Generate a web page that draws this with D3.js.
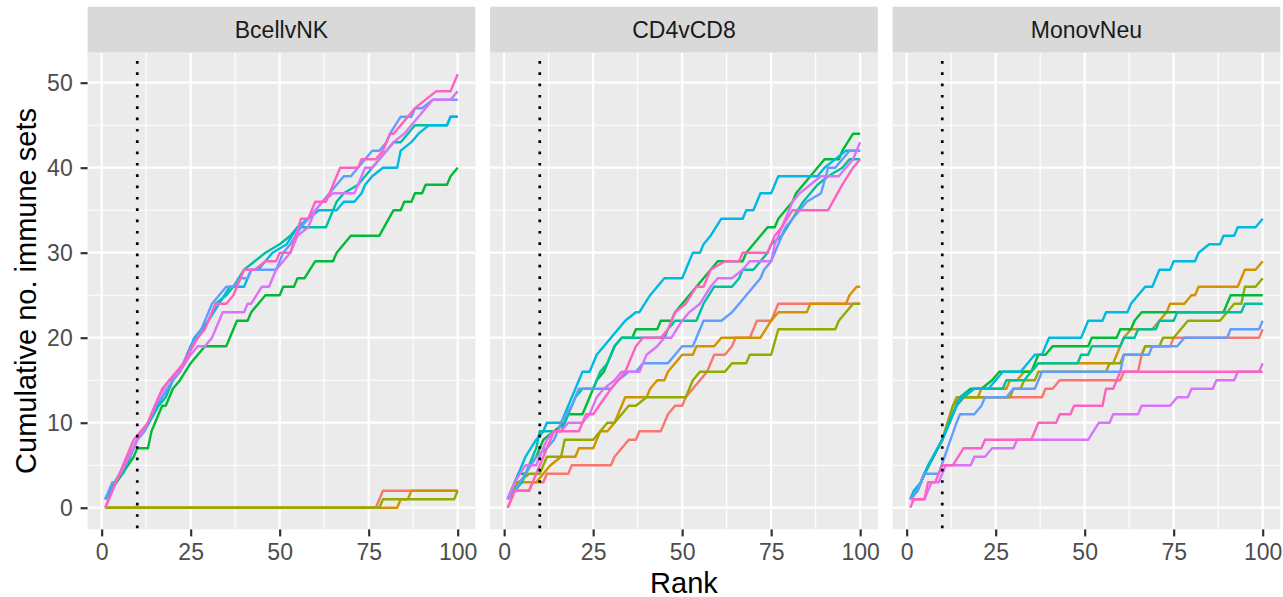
<!DOCTYPE html>
<html>
<head>
<meta charset="utf-8">
<script src="https://cdn.jsdelivr.net/npm/d3@7"></script>
<style>
  html, body { margin: 0; padding: 0; background: #ffffff; }
  svg { display: block; font-family: "Liberation Sans", Arial, Helvetica, sans-serif; }
</style>
</head>
<body>
<script>
// Facets, series colours and axis ticks
const facets = ["BcellvNK", "CD4vCD8", "MonovNeu"];
const seriesColors = ["#F8766D", "#D39200", "#93AA00", "#00BA38", "#00C19F",
                      "#00B9E3", "#619CFF", "#DB72FB", "#FF61C3"];
const xTicks = [0, 25, 50, 75, 100];
const yTicks = [0, 10, 20, 30, 40, 50];
const xMinor = [12.5, 37.5, 62.5, 87.5];
const yMinor = [5, 15, 25, 35, 45];
const cutoffRank = 10;

// Cumulative counts as [rank, cumulative no. of immune sets] vertices,
// one list per series in colour order (red, orange, olive, green, teal, cyan, blue, violet, pink)
const bcellvNK = [
  [[1,0],[77,0],[79,2],[100,2]],
  [[1,0],[83,0],[84,1],[86,1],[87,2],[100,2]],
  [[1,0],[78,0],[79,1],[99,1],[100,2]],
  [[1,1],[9,6],[10,7],[13,7],[14,9],[17,12],[18,12],[20,14],[22,15],[25,17],[27,18],[29,19],[35,19],[38,22],[41,22],[42,23],[44,24],[46,25],[50,25],[51,26],[54,26],[55,27],[57,27],[60,29],[65,29],[66,30],[68,31],[70,32],[78,32],[82,35],[84,35],[85,36],[87,36],[88,37],[90,37],[91,38],[97,38],[98,39],[100,40]],
  [[1,1],[5,4],[6,4],[9,7],[10,8],[12,9],[16,12],[18,13],[20,15],[22,16],[25,19],[27,20],[30,22],[32,24],[35,25],[37,26],[40,28],[43,29],[46,30],[50,31],[53,32],[55,33],[63,33],[66,36],[68,37],[72,38],[74,39],[76,40],[80,42],[82,43],[84,43],[86,44],[88,45],[97,45],[98,46],[100,46]],
  [[1,1],[4,3],[9,7],[10,8],[13,10],[17,13],[20,15],[23,17],[26,20],[30,22],[33,24],[36,26],[40,26],[42,28],[44,28],[46,29],[48,30],[52,31],[55,33],[58,34],[61,35],[66,35],[68,36],[71,36],[73,37],[74,38],[76,39],[79,40],[83,40],[84,42],[87,43],[89,44],[92,45],[97,45],[98,46],[100,46]],
  [[1,1],[3,3],[4,3],[10,8],[12,9],[15,12],[17,13],[20,15],[23,17],[25,19],[28,21],[31,24],[33,25],[35,26],[37,26],[39,27],[41,27],[42,28],[49,28],[51,30],[53,31],[56,33],[60,35],[62,36],[64,37],[66,38],[68,39],[70,39],[72,40],[76,42],[78,42],[80,43],[81,44],[84,46],[87,46],[88,47],[90,47],[93,48],[100,48]],
  [[1,0],[4,3],[9,7],[10,8],[13,10],[16,13],[19,15],[22,16],[25,18],[27,19],[29,19],[31,20],[34,23],[40,23],[41,24],[42,24],[45,26],[47,26],[49,28],[51,29],[53,30],[55,32],[58,33],[60,35],[62,36],[65,37],[71,37],[73,39],[74,40],[76,40],[78,41],[80,42],[82,43],[85,44],[87,45],[89,46],[91,47],[93,48],[98,48],[100,49]],
  [[1,0],[9,8],[13,10],[17,14],[19,15],[21,16],[23,17],[27,20],[29,21],[32,24],[35,24],[37,25],[38,26],[40,28],[43,28],[46,29],[49,29],[50,30],[53,30],[56,34],[58,34],[60,36],[63,36],[67,40],[72,40],[73,41],[77,41],[79,42],[81,44],[82,44],[86,46],[88,47],[91,48],[94,49],[98,49],[100,51]]
];

const cd4vCD8 = [
  [[1,0],[3,2],[7,2],[8,3],[11,3],[12,4],[18,4],[19,5],[30,5],[31,6],[33,7],[35,8],[37,8],[38,9],[44,9],[45,10],[46,11],[48,12],[50,12],[51,13],[53,14],[55,15],[57,16],[59,18],[62,18],[64,19],[65,20],[69,20],[70,21],[71,22],[75,22],[77,24],[100,24]],
  [[1,1],[3,3],[9,3],[11,4],[13,5],[16,6],[20,6],[21,7],[25,7],[26,8],[27,9],[29,9],[31,10],[34,13],[40,13],[41,14],[43,15],[45,15],[46,16],[48,17],[50,18],[53,18],[54,19],[59,19],[61,20],[72,20],[75,22],[77,23],[85,23],[86,24],[96,24],[97,25],[99,26],[100,26]],
  [[1,1],[4,3],[7,4],[10,4],[11,5],[12,6],[16,6],[17,8],[25,8],[27,9],[29,10],[31,10],[33,11],[35,12],[37,12],[40,13],[51,13],[53,15],[55,16],[62,16],[64,17],[68,17],[69,18],[75,18],[77,21],[93,21],[94,22],[96,23],[98,24],[100,24]],
  [[1,1],[3,3],[4,4],[6,4],[9,6],[11,8],[14,9],[17,10],[18,11],[22,11],[24,13],[26,15],[28,16],[31,19],[33,20],[36,20],[37,21],[43,21],[44,22],[47,22],[48,23],[50,24],[52,25],[54,26],[56,27],[58,28],[60,29],[67,29],[68,30],[70,31],[72,32],[74,33],[76,33],[77,34],[79,35],[81,36],[82,37],[84,38],[86,39],[88,40],[90,41],[94,41],[95,42],[98,44],[100,44]],
  [[1,1],[3,2],[5,3],[7,5],[9,7],[10,9],[16,9],[18,11],[20,13],[22,14],[25,14],[27,16],[29,17],[31,19],[33,20],[45,20],[46,21],[48,22],[54,22],[56,24],[59,26],[64,26],[66,27],[67,28],[70,28],[72,29],[74,30],[75,31],[78,32],[81,34],[84,36],[88,38],[91,39],[95,40],[97,41],[100,41]],
  [[1,1],[3,3],[6,6],[9,8],[11,9],[12,10],[16,10],[18,12],[20,14],[22,16],[24,16],[26,18],[28,19],[30,20],[32,21],[34,22],[37,23],[38,23],[41,25],[43,26],[45,27],[50,27],[53,30],[55,30],[56,31],[58,32],[61,34],[67,34],[68,35],[70,35],[72,37],[75,37],[77,39],[88,39],[90,40],[93,41],[96,42],[100,42]],
  [[1,1],[3,2],[6,4],[9,6],[12,7],[14,8],[16,10],[19,12],[21,14],[30,14],[32,15],[35,16],[37,16],[39,17],[46,17],[48,18],[50,19],[53,19],[55,21],[56,22],[61,22],[64,23],[66,24],[68,25],[70,26],[72,27],[73,28],[75,29],[77,31],[79,33],[81,34],[85,36],[89,37],[91,40],[93,40],[95,41],[97,42],[100,42]],
  [[1,1],[3,3],[6,5],[9,5],[12,8],[14,9],[16,9],[18,10],[22,10],[24,11],[26,13],[28,14],[31,15],[33,16],[38,16],[40,18],[43,19],[45,20],[47,20],[50,22],[52,23],[55,24],[58,26],[60,27],[64,27],[67,28],[69,29],[75,29],[76,31],[78,33],[81,36],[83,37],[86,38],[89,39],[94,39],[96,40],[98,41],[100,43]],
  [[1,0],[3,2],[7,2],[9,4],[13,8],[14,9],[21,9],[23,11],[25,11],[30,14],[32,15],[34,16],[37,19],[39,20],[44,20],[46,21],[48,23],[51,24],[54,26],[56,26],[58,28],[62,29],[66,29],[67,30],[74,30],[75,31],[76,32],[78,33],[81,35],[91,35],[95,38],[98,40],[100,41]]
];

const monovNeu = [
  [[1,1],[3,2],[5,4],[10,8],[14,12],[16,13],[38,13],[39,14],[41,14],[43,15],[60,15],[61,16],[65,16],[66,18],[67,19],[74,19],[75,20],[99,20],[100,21]],
  [[1,1],[3,2],[5,4],[10,8],[13,12],[14,13],[20,13],[21,14],[28,14],[29,15],[31,15],[33,16],[35,16],[37,17],[58,17],[60,19],[61,20],[63,21],[69,21],[71,22],[73,23],[74,24],[78,24],[80,25],[81,25],[82,26],[93,26],[95,28],[98,28],[100,29]],
  [[1,1],[3,2],[5,4],[10,8],[13,12],[15,13],[29,13],[30,14],[32,14],[33,15],[36,15],[37,16],[56,16],[57,17],[60,17],[61,18],[66,18],[67,19],[71,19],[72,20],[75,20],[77,21],[79,22],[88,22],[90,23],[92,24],[94,24],[95,26],[98,26],[100,27]],
  [[1,1],[3,2],[5,4],[10,8],[14,12],[15,13],[18,14],[21,14],[24,15],[26,16],[35,16],[37,18],[39,18],[41,19],[51,19],[52,20],[59,20],[60,21],[63,21],[64,22],[66,23],[89,23],[91,25],[100,25]],
  [[1,1],[3,2],[5,4],[10,8],[14,12],[16,13],[19,14],[27,14],[28,15],[33,15],[35,16],[37,17],[48,17],[49,18],[51,18],[52,19],[60,19],[61,20],[64,20],[65,21],[70,21],[71,22],[75,22],[76,23],[94,23],[95,24],[100,24]],
  [[1,1],[2,2],[4,3],[6,5],[10,8],[12,10],[15,13],[19,14],[23,14],[25,15],[27,16],[32,16],[34,17],[36,18],[38,18],[40,20],[49,20],[50,21],[51,22],[55,22],[56,23],[62,23],[63,24],[65,25],[67,26],[69,26],[71,28],[74,28],[75,29],[81,29],[82,30],[85,31],[88,31],[89,32],[92,32],[93,33],[98,33],[100,34]],
  [[1,1],[3,2],[5,4],[9,4],[14,10],[15,11],[19,11],[21,12],[22,13],[28,13],[30,14],[36,14],[38,16],[60,16],[61,18],[68,18],[69,19],[76,19],[78,20],[90,20],[91,21],[99,21],[100,22]],
  [[1,1],[5,1],[7,3],[9,3],[11,5],[18,5],[19,6],[22,6],[24,7],[30,7],[31,8],[51,8],[54,10],[57,10],[58,11],[65,11],[66,12],[74,12],[76,13],[79,13],[80,14],[86,14],[87,15],[92,15],[93,16],[99,16],[100,17]],
  [[1,0],[2,1],[5,1],[6,3],[8,3],[10,5],[13,5],[16,7],[21,7],[22,8],[35,8],[36,9],[37,10],[42,10],[43,11],[46,11],[47,12],[55,12],[56,14],[58,14],[60,16],[100,16]]
];

const panelSeries = [bcellvNK, cd4vCD8, monovNeu];

// Layout
const W = 1283, H = 597;
const firstLeft = 87.6, panelW = 387.7, panelStep = 402.5;
const panelTop = 52.5, panelBottom = 529.4, stripTop = 6.7;
const tickFont = 23, titleFont = 29;

const svg = d3.select("body").append("svg")
  .attr("width", W).attr("height", H)
  .attr("viewBox", `0 0 ${W} ${H}`);

svg.append("rect").attr("width", W).attr("height", H).attr("fill", "#ffffff");

const y = d3.scaleLinear().domain([-2.55, 53.55]).range([panelBottom, panelTop]);

const line = (x) => d3.line().x(d => x(d[0])).y(d => y(d[1])).curve(d3.curveLinear);

facets.forEach((name, i) => {
  const left = firstLeft + i * panelStep;
  const x = d3.scaleLinear().domain([-3.95, 104.95]).range([left, left + panelW]);
  const g = svg.append("g");

  // panel background
  g.append("rect")
    .attr("x", left).attr("y", panelTop)
    .attr("width", panelW).attr("height", panelBottom - panelTop)
    .attr("fill", "#EBEBEB");

  const clipId = "clip" + i;
  svg.append("clipPath").attr("id", clipId)
    .append("rect")
    .attr("x", left).attr("y", panelTop)
    .attr("width", panelW).attr("height", panelBottom - panelTop);

  const grid = g.append("g").attr("clip-path", `url(#${clipId})`);
  // minor grid
  grid.selectAll(".xminor").data(xMinor).enter().append("line")
    .attr("x1", d => x(d)).attr("x2", d => x(d))
    .attr("y1", panelTop).attr("y2", panelBottom)
    .attr("stroke", "#ffffff").attr("stroke-width", 1.1);
  grid.selectAll(".yminor").data(yMinor).enter().append("line")
    .attr("y1", d => y(d)).attr("y2", d => y(d))
    .attr("x1", left).attr("x2", left + panelW)
    .attr("stroke", "#ffffff").attr("stroke-width", 1.1);
  // major grid
  grid.selectAll(".xmajor").data(xTicks).enter().append("line")
    .attr("x1", d => x(d)).attr("x2", d => x(d))
    .attr("y1", panelTop).attr("y2", panelBottom)
    .attr("stroke", "#ffffff").attr("stroke-width", 2.2);
  grid.selectAll(".ymajor").data(yTicks).enter().append("line")
    .attr("y1", d => y(d)).attr("y2", d => y(d))
    .attr("x1", left).attr("x2", left + panelW)
    .attr("stroke", "#ffffff").attr("stroke-width", 2.2);

  // cumulative curves
  const lines = g.append("g").attr("clip-path", `url(#${clipId})`);
  panelSeries[i].forEach((pts, k) => {
    lines.append("path")
      .attr("d", line(x)(pts))
      .attr("fill", "none")
      .attr("stroke", seriesColors[k])
      .attr("stroke-width", 2.4)
      .attr("stroke-linejoin", "round");
  });

  // dotted cutoff at rank 10
  g.append("line")
    .attr("x1", x(cutoffRank)).attr("x2", x(cutoffRank))
    .attr("y1", panelTop).attr("y2", panelBottom)
    .attr("stroke", "#000000").attr("stroke-width", 2.7)
    .attr("stroke-dasharray", "2.7 8.63")
    .attr("stroke-dashoffset", 2.9);

  // strip
  g.append("rect")
    .attr("x", left).attr("y", stripTop)
    .attr("width", panelW).attr("height", panelTop - stripTop)
    .attr("fill", "#D9D9D9");
  g.append("text")
    .attr("x", left + panelW / 2).attr("y", 38.3)
    .attr("text-anchor", "middle")
    .attr("font-size", tickFont)
    .attr("fill", "#1A1A1A")
    .text(name);

  // x axis
  const xAxis = g.append("g")
    .attr("transform", `translate(0,${panelBottom})`)
    .call(d3.axisBottom(x).tickValues(xTicks).tickSize(7).tickPadding(7.3).tickFormat(d3.format("d")));
  xAxis.select(".domain").remove();
  xAxis.selectAll(".tick line").attr("stroke", "#333333").attr("stroke-width", 2.2);
  xAxis.selectAll(".tick text")
    .attr("fill", "#4D4D4D").attr("font-size", tickFont)
    .attr("font-family", "Liberation Sans, Arial, sans-serif");

  // y axis on the first panel only
  if (i === 0) {
    const yAxis = g.append("g")
      .attr("transform", `translate(${left},0)`)
      .call(d3.axisLeft(y).tickValues(yTicks).tickSize(7).tickPadding(7.9).tickFormat(d3.format("d")));
    yAxis.select(".domain").remove();
    yAxis.selectAll(".tick line").attr("stroke", "#333333").attr("stroke-width", 2.2);
    yAxis.selectAll(".tick text")
      .attr("fill", "#4D4D4D").attr("font-size", tickFont)
      .attr("font-family", "Liberation Sans, Arial, sans-serif");
  }
});

// axis titles
const plotMidX = firstLeft + (2 * panelStep + panelW) / 2;
svg.append("text")
  .attr("x", plotMidX).attr("y", 592.5)
  .attr("text-anchor", "middle")
  .attr("font-size", titleFont)
  .attr("fill", "#000000")
  .text("Rank");

svg.append("text")
  .attr("transform", `translate(35.5,${(panelTop + panelBottom) / 2}) rotate(-90)`)
  .attr("text-anchor", "middle")
  .attr("font-size", titleFont)
  .attr("fill", "#000000")
  .text("Cumulative no. immune sets");
</script>
</body>
</html>
